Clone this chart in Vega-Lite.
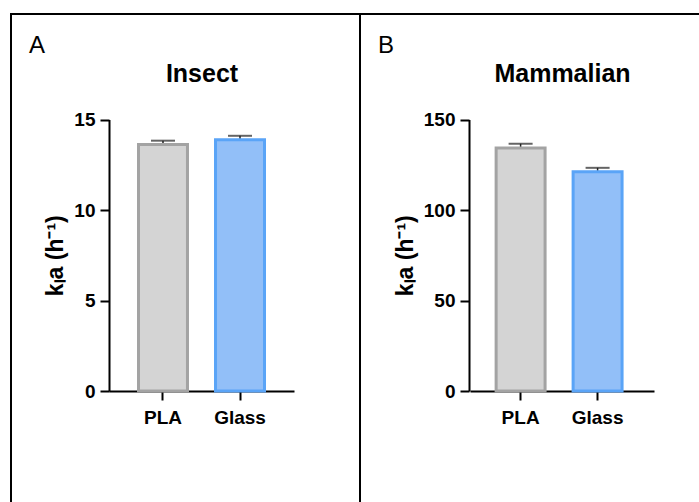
{
  "$schema": "https://vega.github.io/schema/vega-lite/v6.json",
  "padding": {"left": 10, "top": 13, "right": 0, "bottom": 0},
  "bounds": "flush",
  "spacing": 0,
  "config": {
    "view": {"stroke": "black", "strokeWidth": 2},
    "font": "Liberation Sans",
    "axis": {
      "domainColor": "black", "domainWidth": 2,
      "tickColor": "black", "tickWidth": 2, "tickSize": 9,
      "labelFont": "Liberation Sans", "labelFontSize": 19, "labelFontWeight": "bold", "labelColor": "black",
      "titleFont": "Liberation Sans", "titleFontWeight": "bold", "titleColor": "black",
      "grid": false
    }
  },
  "datasets": {
    "insect": [
      {"material": "PLA", "value": 13.62, "upper": 13.83},
      {"material": "Glass", "value": 13.88, "upper": 14.1}
    ],
    "mammalian": [
      {"material": "PLA", "value": 134.2, "upper": 136.6},
      {"material": "Glass", "value": 121.2, "upper": 123.3}
    ]
  },
  "hconcat": [
    {
      "width": 349, "height": 491,
      "title": {"text": "A", "anchor": "start", "frame": "group", "offset": -44, "dx": 18, "fontSize": 24, "fontWeight": "normal", "color": "black", "font": "Liberation Sans"},
      "data": {"name": "insect"},
      "resolve": {"axis": {"x": "independent"}},
      "layer": [
        {
          "mark": {"type": "rule", "color": "#222222", "strokeWidth": 1.5},
          "encoding": {
            "x": {"field": "material", "type": "nominal", "sort": ["PLA", "Glass"],
                  "scale": {"range": [98, 283], "paddingInner": 0.364, "paddingOuter": 0.383, "align": 0.5},
                  "axis": {"orient": "top", "offset": -72, "title": "Insect", "labels": false, "ticks": false, "domain": false, "titleFontSize": 25, "titlePadding": 0}},
            "y": {"field": "value", "type": "quantitative", "scale": {"domain": [0, 15], "range": [377, 105.5], "nice": false},
                  "axis": {"orient": "left", "offset": -98, "values": [0, 5, 10, 15], "title": "kₗa (h⁻¹)", "titleFontSize": 23, "titlePadding": 6, "labelPadding": 5}},
            "y2": {"field": "upper"}
          }
        },
        {
          "mark": {"type": "tick", "color": "#222222", "thickness": 2, "size": 24},
          "encoding": {
            "x": {"field": "material", "type": "nominal", "sort": ["PLA", "Glass"],
                  "scale": {"range": [98, 283], "paddingInner": 0.364, "paddingOuter": 0.383, "align": 0.5},
                  "axis": null},
            "y": {"field": "upper", "type": "quantitative", "scale": {"domain": [0, 15], "range": [377, 105.5], "nice": false},
                  "axis": {"orient": "left", "offset": -98, "values": [0, 5, 10, 15], "title": "kₗa (h⁻¹)", "titleFontSize": 23, "titlePadding": 6, "labelPadding": 5}}
          }
        },
        {
          "mark": {"type": "bar", "strokeWidth": 3},
          "encoding": {
            "x": {"field": "material", "type": "nominal", "sort": ["PLA", "Glass"],
                  "scale": {"range": [98, 283], "paddingInner": 0.364, "paddingOuter": 0.383, "align": 0.5},
                  "axis": {"orient": "bottom", "offset": -114, "title": null, "labelAngle": 0, "labelPadding": 8}},
            "y": {"field": "value", "type": "quantitative", "scale": {"domain": [0, 15], "range": [377, 105.5], "nice": false},
                  "axis": {"orient": "left", "offset": -98, "values": [0, 5, 10, 15], "title": "kₗa (h⁻¹)", "titleFontSize": 23, "titlePadding": 6, "labelPadding": 5}},
            "fill": {"field": "material", "type": "nominal", "scale": {"domain": ["PLA", "Glass"], "range": ["#D4D4D4", "#92BFF8"]}, "legend": null},
            "stroke": {"field": "material", "type": "nominal", "scale": {"domain": ["PLA", "Glass"], "range": ["#A3A3A3", "#5AA4F7"]}, "legend": null}
          }
        }
      ]
    },
    {
      "width": 341, "height": 491,
      "title": {"text": "B", "anchor": "start", "frame": "group", "offset": -44, "dx": 18, "fontSize": 24, "fontWeight": "normal", "color": "black", "font": "Liberation Sans"},
      "data": {"name": "mammalian"},
      "resolve": {"axis": {"x": "independent"}},
      "layer": [
        {
          "mark": {"type": "rule", "color": "#222222", "strokeWidth": 1.5},
          "encoding": {
            "x": {"field": "material", "type": "nominal", "sort": ["PLA", "Glass"],
                  "scale": {"range": [110, 294], "paddingInner": 0.364, "paddingOuter": 0.377, "align": 0.45},
                  "axis": {"orient": "top", "offset": -72, "title": "Mammalian", "labels": false, "ticks": false, "domain": false, "titleFontSize": 25, "titlePadding": 0}},
            "y": {"field": "value", "type": "quantitative", "scale": {"domain": [0, 150], "range": [377, 105.5], "nice": false},
                  "axis": {"orient": "left", "offset": -109, "values": [0, 50, 100, 150], "title": "kₗa (h⁻¹)", "titleFontSize": 23, "titlePadding": 6, "labelPadding": 5}},
            "y2": {"field": "upper"}
          }
        },
        {
          "mark": {"type": "tick", "color": "#222222", "thickness": 2, "size": 24},
          "encoding": {
            "x": {"field": "material", "type": "nominal", "sort": ["PLA", "Glass"],
                  "scale": {"range": [110, 294], "paddingInner": 0.364, "paddingOuter": 0.377, "align": 0.45},
                  "axis": null},
            "y": {"field": "upper", "type": "quantitative", "scale": {"domain": [0, 150], "range": [377, 105.5], "nice": false},
                  "axis": {"orient": "left", "offset": -109, "values": [0, 50, 100, 150], "title": "kₗa (h⁻¹)", "titleFontSize": 23, "titlePadding": 6, "labelPadding": 5}}
          }
        },
        {
          "mark": {"type": "bar", "strokeWidth": 3},
          "encoding": {
            "x": {"field": "material", "type": "nominal", "sort": ["PLA", "Glass"],
                  "scale": {"range": [110, 294], "paddingInner": 0.364, "paddingOuter": 0.377, "align": 0.45},
                  "axis": {"orient": "bottom", "offset": -114, "title": null, "labelAngle": 0, "labelPadding": 8}},
            "y": {"field": "value", "type": "quantitative", "scale": {"domain": [0, 150], "range": [377, 105.5], "nice": false},
                  "axis": {"orient": "left", "offset": -109, "values": [0, 50, 100, 150], "title": "kₗa (h⁻¹)", "titleFontSize": 23, "titlePadding": 6, "labelPadding": 5}},
            "fill": {"field": "material", "type": "nominal", "scale": {"domain": ["PLA", "Glass"], "range": ["#D4D4D4", "#92BFF8"]}, "legend": null},
            "stroke": {"field": "material", "type": "nominal", "scale": {"domain": ["PLA", "Glass"], "range": ["#A3A3A3", "#5AA4F7"]}, "legend": null}
          }
        }
      ]
    }
  ]
}
